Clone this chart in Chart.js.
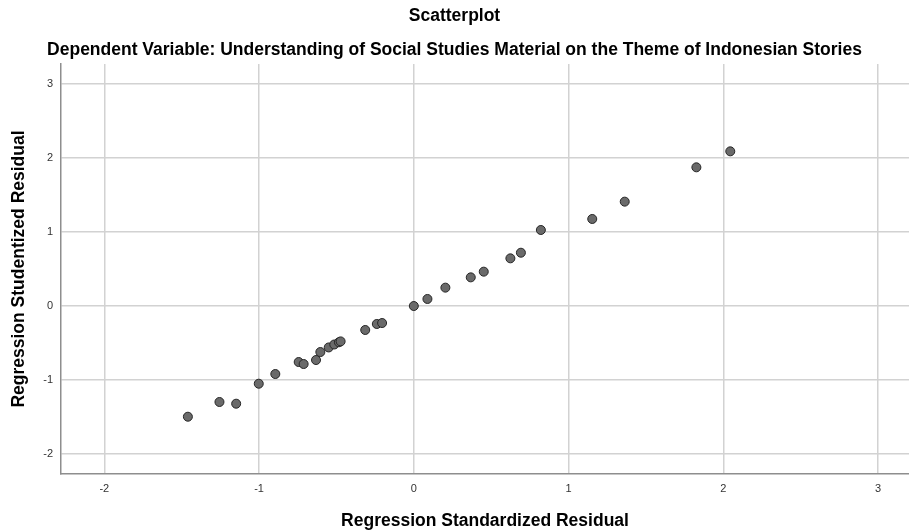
<!DOCTYPE html>
<html>
<head>
<meta charset="utf-8">
<script src="https://cdn.jsdelivr.net/npm/chart.js@4.4.1/dist/chart.umd.min.js"></script>
<style>
  html, body { margin: 0; padding: 0; background: #fff; }
  #wrap { width: 909px; height: 531px; }
</style>
</head>
<body>
<div id="wrap"><canvas id="scatter"></canvas></div>
<script>
var stdResidual = [-1.46, -1.256, -1.148, -1.002, -0.895, -0.744, -0.712, -0.632, -0.604, -0.55,
  -0.514, -0.484, -0.473, -0.314, -0.239, -0.205, 0.0, 0.088, 0.204, 0.368,
  0.452, 0.624, 0.692, 0.821, 1.153, 1.363, 1.826, 2.045];
var studResidual = [-1.496, -1.297, -1.32, -1.05, -0.919, -0.757, -0.784, -0.73, -0.622, -0.56,
  -0.52, -0.49, -0.478, -0.324, -0.243, -0.23, 0.0, 0.095, 0.248, 0.387,
  0.464, 0.644, 0.72, 1.027, 1.176, 1.41, 1.874, 2.09];
var xTicks = [-2, -1, 0, 1, 2, 3];
var yTicks = [-2, -1, 0, 1, 2, 3];

var chartTitle = 'Scatterplot';
var chartSubtitle = 'Dependent Variable: Understanding of Social Studies Material on the Theme of Indonesian Stories';
var xTitle = 'Regression Standardized Residual';
var yTitle = 'Regression Studentized Residual';

var points = stdResidual.map(function (x, i) {
  return { x: x, y: studResidual[i] };
});

var fontFam = '"Liberation Sans", Arial, sans-serif';

new Chart('scatter', {
  type: 'scatter',
  data: {
    datasets: [{
      data: points,
      backgroundColor: '#6a6a6a',
      borderColor: '#262626',
      borderWidth: 1,
      pointRadius: 4.5,
      pointHoverRadius: 4.5
    }]
  },
  options: {
    responsive: true,
    maintainAspectRatio: false,
    animation: false,
    layout: {
      autoPadding: false,
      padding: { left: 0, right: 0, top: 0, bottom: 0 }
    },
    plugins: {
      legend: { display: false },
      tooltip: { enabled: false },
      title: {
        display: true,
        text: chartTitle,
        color: '#000',
        font: { family: fontFam, size: 17.5, weight: 'bold' },
        padding: { top: 5.5, bottom: 8 }
      },
      subtitle: {
        display: true,
        text: chartSubtitle,
        color: '#000',
        font: { family: fontFam, size: 17.5, weight: 'bold' },
        padding: { top: 4.7, bottom: 3.8 }
      }
    },
    scales: {
      x: {
        type: 'linear',
        min: -2.28,
        max: 3.2,
        afterFit: function (scale) {
          scale.height = 57;
          scale.paddingLeft = 0;
          scale.paddingRight = 0;
        },
        afterBuildTicks: function (scale) {
          scale.ticks = xTicks.map(function (v) { return { value: v }; });
        },
        ticks: {
          includeBounds: false,
          color: '#333',
          font: { family: fontFam, size: 11 },
          padding: 8,
          maxRotation: 0,
          callback: function (v) { return String(v); }
        },
        grid: { color: '#d2d2d2', lineWidth: 1.5, drawTicks: false },
        border: { display: true, color: '#8e8e8e', width: 1.5 },
        title: {
          display: true,
          text: xTitle,
          color: '#000',
          font: { family: fontFam, size: 17.5, weight: 'bold' },
          padding: { top: 0, bottom: -1 }
        }
      },
      y: {
        type: 'linear',
        min: -2.27,
        max: 3.27,
        afterFit: function (scale) {
          scale.width = 61;
          scale.paddingTop = 0;
          scale.paddingBottom = 0;
        },
        afterBuildTicks: function (scale) {
          scale.ticks = yTicks.map(function (v) { return { value: v }; });
        },
        ticks: {
          includeBounds: false,
          color: '#333',
          font: { family: fontFam, size: 11 },
          padding: 8,
          callback: function (v) { return String(v); }
        },
        grid: { color: '#d2d2d2', lineWidth: 1.5, drawTicks: false },
        border: { display: true, color: '#8e8e8e', width: 1.5 },
        title: {
          display: true,
          text: yTitle,
          color: '#000',
          font: { family: fontFam, size: 17.5, weight: 'bold' },
          padding: { top: 9, bottom: 0 }
        }
      }
    }
  }
});
</script>
</body>
</html>
